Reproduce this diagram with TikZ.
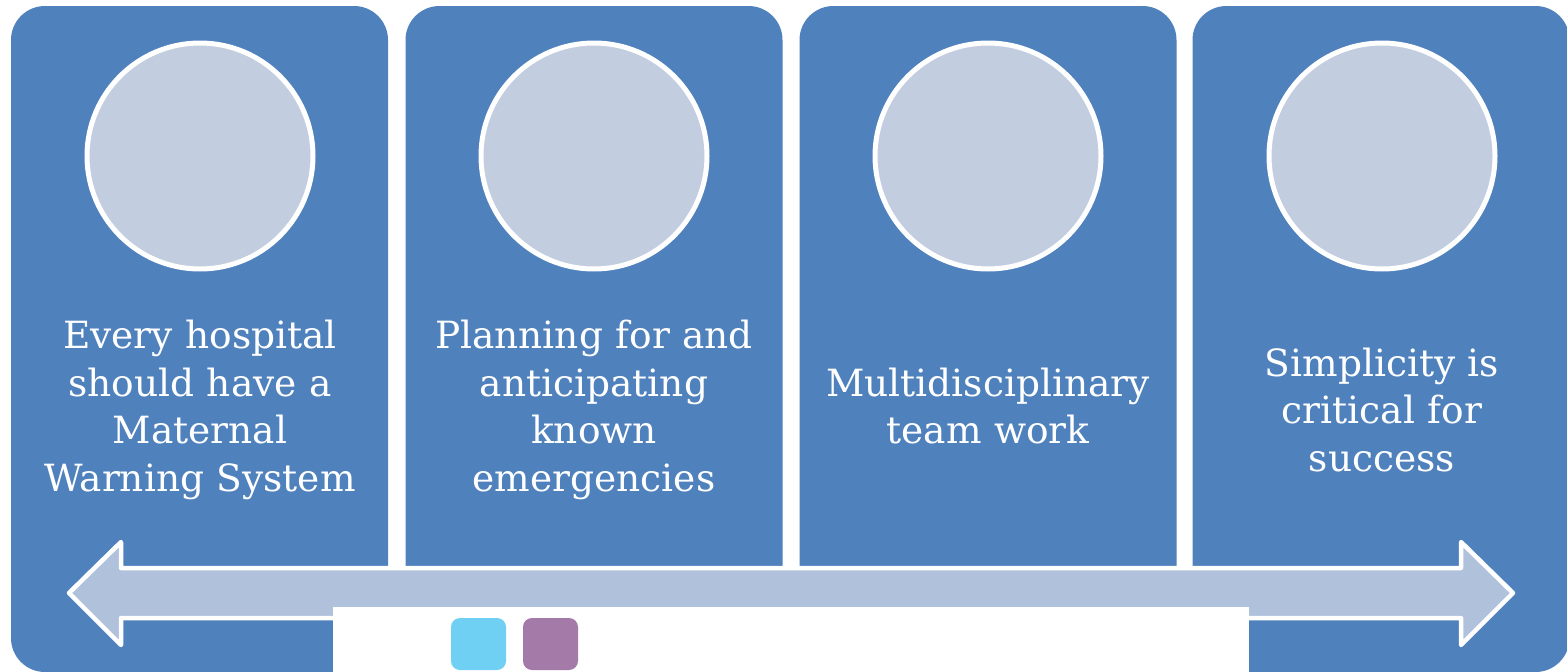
\documentclass[tikz,border=0pt]{standalone}
\usepackage{fontspec}
\setmainfont{DejaVu Serif}
\definecolor{panelblue}{HTML}{4F81BD}
\definecolor{discfill}{HTML}{C3CDE0}
\definecolor{arrowfill}{HTML}{B0C1DB}
\definecolor{keycyan}{HTML}{6FD0F3}
\definecolor{keyplum}{HTML}{A47BA8}
\begin{document}
\begin{tikzpicture}[x=1pt,y=-1pt,
  panel/.style={rectangle, fill=panelblue, draw=none, rounded corners=34pt,
    minimum width=377pt, minimum height=666pt, inner sep=0pt, outer sep=0pt},
  disc/.style={circle, fill=discfill, draw=white, line width=5pt,
    minimum size=226pt, inner sep=0pt},
  caption/.style={text=white, align=center, text width=372pt, inner sep=0pt,
    font=\fontsize{37.5}{47.7}\selectfont},
  keybox/.style={rectangle, rounded corners=9pt, minimum width=55pt,
    minimum height=52pt, inner sep=0pt, draw=none}]
\useasboundingbox (0,0) rectangle (1567,672);
\fill[white] (0,0) rectangle (1567,672);

% four columns
\node[panel] (p1) at (199.5,339) {};
\node[panel] (p2) at (594,339) {};
\node[panel] (p3) at (988,339) {};
\node[panel] (p4) at (1381,339) {};

% discs at the top of each column
\node[disc] (c1) at (200,156) {};
\node[disc] (c2) at (594,156) {};
\node[disc] (c3) at (988,156) {};
\node[disc] (c4) at (1382,156) {};

% captions
\node[caption] (t1) at (200,410) {Every hospital\\should have a\\Maternal\\Warning System};
\node[caption] (t2) at (594,410) {Planning for and\\anticipating\\known\\emergencies};
\node[caption] (t3) at (988,406) {Multidisciplinary\\team work};
\node[caption] (t4) at (1382,410) {Simplicity is\\critical for\\success};

% double-headed timeline arrow
\coordinate (la) at (69,593);
\coordinate (ra) at (1513,593);
\draw[fill=arrowfill, draw=white, line width=4.5pt, line join=round]
  (la) -- (121,542) -- (121,568) -- (1461,568) -- (1461,542) -- (ra)
  -- (1461,645) -- (1461,618) -- (121,618) -- (121,645) -- cycle;

% legend strip
\node[rectangle, fill=white, draw=none, minimum width=916pt, minimum height=66pt,
  inner sep=0pt, anchor=north west] (strip) at (333,607) {};
\node[keybox, fill=keycyan] (k1) at (478.5,644) {};
\node[keybox, fill=keyplum] (k2) at (550.5,644) {};
\end{tikzpicture}
\end{document}
